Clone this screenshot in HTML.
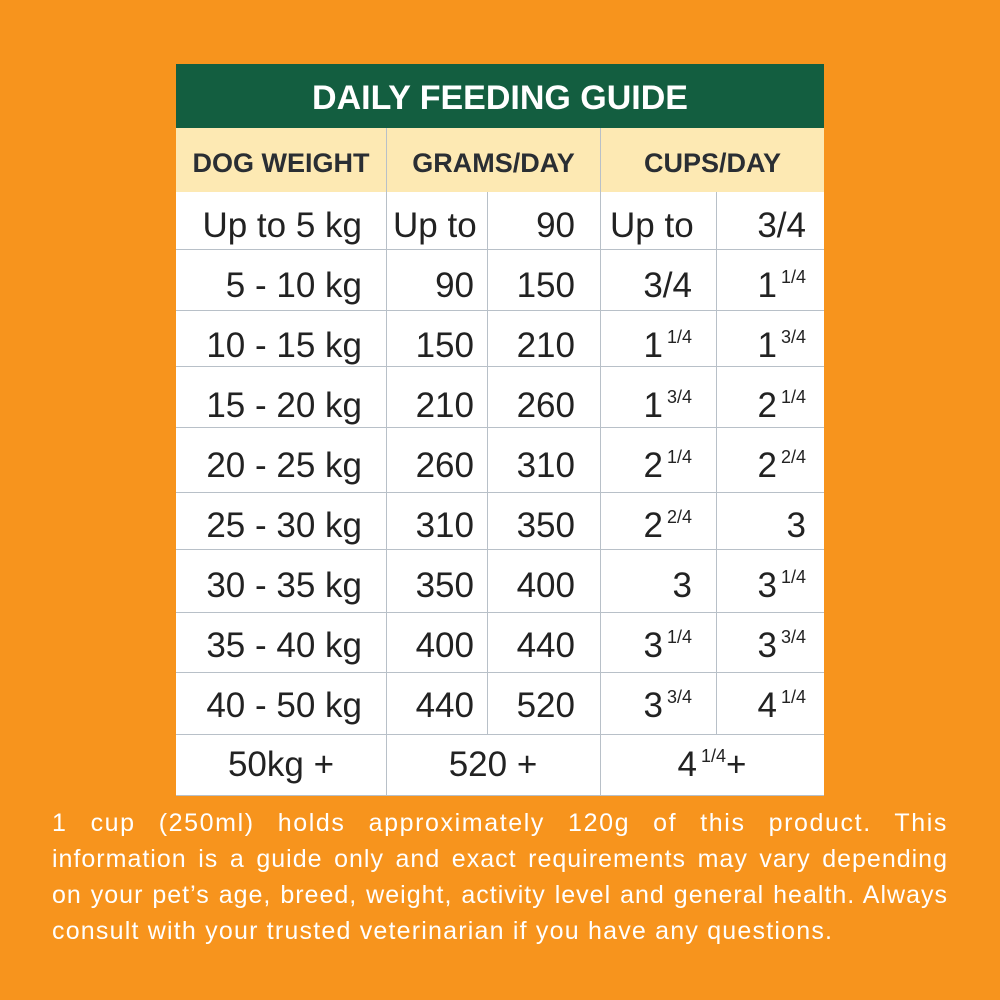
<!DOCTYPE html>
<html><head><meta charset="utf-8"><style>
body{margin:0;width:1000px;height:1000px;background:#f7941d;position:relative;overflow:hidden;font-family:"Liberation Sans",sans-serif}
.t{position:absolute;left:176px;top:64px;width:648px;height:731px;background:#fff}
.g{position:absolute;left:176px;top:64px;width:648px;height:64px;background:#135e40;color:#fff;font-weight:bold;font-size:34px;text-align:center;line-height:68px}
.c{position:absolute;top:128px;height:64px;background:#fde9b3;color:#2a2e33;font-weight:bold;font-size:27px;text-align:center;line-height:70px}
.h{position:absolute;height:1px;background:#b8c0c8}
.v{position:absolute;width:1px;background:#b8c0c8}
.x{position:absolute;font-size:35px;color:#222;line-height:40px;white-space:nowrap}
.x sup{font-size:18px;vertical-align:0;position:relative;top:-14px;margin-left:4px}
.f{position:absolute;left:52px;width:896px;color:#fff;font-size:25px;letter-spacing:1px;line-height:36px;white-space:nowrap;text-align:justify;text-align-last:justify}
</style></head><body>
<div class="t"></div>
<div class="g">DAILY FEEDING GUIDE</div>
<div class="c" style="left:176px;width:210px">DOG WEIGHT</div>
<div class="c" style="left:387px;width:213px">GRAMS/DAY</div>
<div class="c" style="left:601px;width:223px">CUPS/DAY</div>
<div class="v" style="left:386px;top:128px;height:667px"></div>
<div class="v" style="left:600px;top:128px;height:667px"></div>
<div class="v" style="left:487px;top:192px;height:542px"></div>
<div class="v" style="left:716px;top:192px;height:542px"></div>
<div class="h" style="left:176px;width:648px;top:249px"></div>
<div class="h" style="left:176px;width:648px;top:310px"></div>
<div class="h" style="left:176px;width:648px;top:366px"></div>
<div class="h" style="left:176px;width:648px;top:427px"></div>
<div class="h" style="left:176px;width:648px;top:492px"></div>
<div class="h" style="left:176px;width:648px;top:549px"></div>
<div class="h" style="left:176px;width:648px;top:612px"></div>
<div class="h" style="left:176px;width:648px;top:672px"></div>
<div class="h" style="left:176px;width:648px;top:734px"></div>
<div class="h" style="left:176px;width:648px;top:795px"></div>

<div class="x" style="right:638px;top:206px">Up to 5 kg</div><div class="x" style="left:393px;top:206px">Up to</div><div class="x" style="right:425px;top:206px">90</div><div class="x" style="left:610px;top:206px">Up to</div><div class="x" style="right:194px;top:206px">3/4</div>
<div class="x" style="right:638px;top:266px">5 - 10 kg</div><div class="x" style="right:526px;top:266px">90</div><div class="x" style="right:425px;top:266px">150</div><div class="x" style="right:308px;top:266px">3/4</div><div class="x" style="right:194px;top:266px">1<sup>1/4</sup></div>
<div class="x" style="right:638px;top:326px">10 - 15 kg</div><div class="x" style="right:526px;top:326px">150</div><div class="x" style="right:425px;top:326px">210</div><div class="x" style="right:308px;top:326px">1<sup>1/4</sup></div><div class="x" style="right:194px;top:326px">1<sup>3/4</sup></div>
<div class="x" style="right:638px;top:386px">15 - 20 kg</div><div class="x" style="right:526px;top:386px">210</div><div class="x" style="right:425px;top:386px">260</div><div class="x" style="right:308px;top:386px">1<sup>3/4</sup></div><div class="x" style="right:194px;top:386px">2<sup>1/4</sup></div>
<div class="x" style="right:638px;top:446px">20 - 25 kg</div><div class="x" style="right:526px;top:446px">260</div><div class="x" style="right:425px;top:446px">310</div><div class="x" style="right:308px;top:446px">2<sup>1/4</sup></div><div class="x" style="right:194px;top:446px">2<sup>2/4</sup></div>
<div class="x" style="right:638px;top:506px">25 - 30 kg</div><div class="x" style="right:526px;top:506px">310</div><div class="x" style="right:425px;top:506px">350</div><div class="x" style="right:308px;top:506px">2<sup>2/4</sup></div><div class="x" style="right:194px;top:506px">3</div>
<div class="x" style="right:638px;top:566px">30 - 35 kg</div><div class="x" style="right:526px;top:566px">350</div><div class="x" style="right:425px;top:566px">400</div><div class="x" style="right:308px;top:566px">3</div><div class="x" style="right:194px;top:566px">3<sup>1/4</sup></div>
<div class="x" style="right:638px;top:626px">35 - 40 kg</div><div class="x" style="right:526px;top:626px">400</div><div class="x" style="right:425px;top:626px">440</div><div class="x" style="right:308px;top:626px">3<sup>1/4</sup></div><div class="x" style="right:194px;top:626px">3<sup>3/4</sup></div>
<div class="x" style="right:638px;top:686px">40 - 50 kg</div><div class="x" style="right:526px;top:686px">440</div><div class="x" style="right:425px;top:686px">520</div><div class="x" style="right:308px;top:686px">3<sup>3/4</sup></div><div class="x" style="right:194px;top:686px">4<sup>1/4</sup></div>
<div class="x" style="left:176px;width:210px;text-align:center;top:745px">50kg +</div>
<div class="x" style="left:386px;width:214px;text-align:center;top:745px">520 +</div>
<div class="x" style="left:600px;width:224px;text-align:center;top:745px">4<sup>1/4</sup>+</div>

<div class="f" style="top:805px;letter-spacing:1.6px">1 cup (250ml) holds approximately 120g of this product. This</div>
<div class="f" style="top:841px">information is a guide only and exact requirements may vary depending</div>
<div class="f" style="top:877px">on your pet’s age, breed, weight, activity level and general health. Always</div>
<div class="f" style="top:913px;text-align-last:left;letter-spacing:1.2px">consult with your trusted veterinarian if you have any questions.</div>
</body></html>
